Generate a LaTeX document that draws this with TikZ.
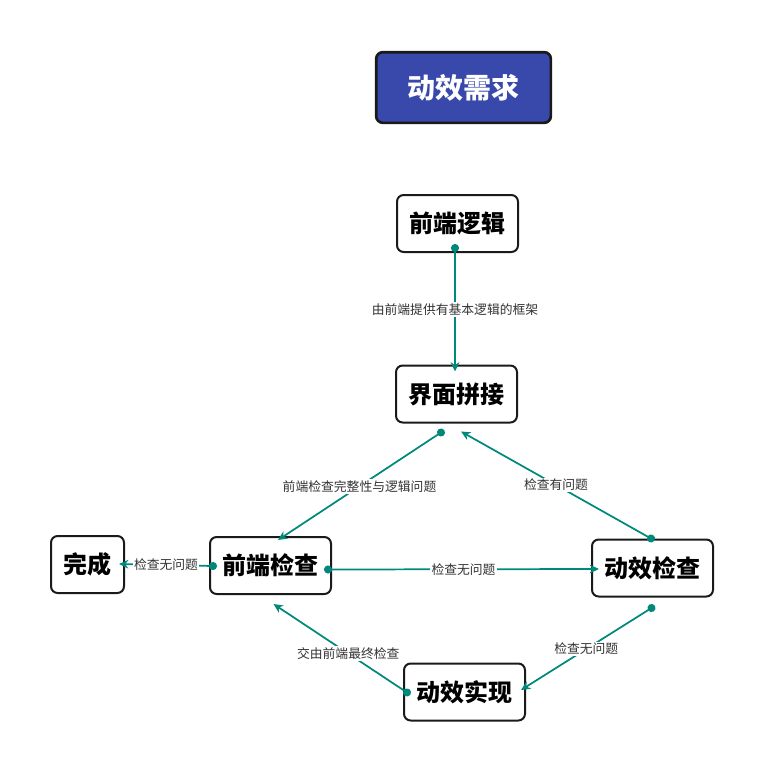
\documentclass[tikz,border=0pt]{standalone}
\usepackage{fontspec}
\newfontfamily\cjk{Noto Sans CJK SC}
\usepackage{tikz}
\usetikzlibrary{arrows.meta,calc}
\definecolor{flowteal}{RGB}{0,137,123}
\definecolor{needblue}{RGB}{57,73,171}
\definecolor{edgeblack}{RGB}{26,26,26}
\definecolor{labelgray}{RGB}{51,51,51}

\begin{document}
\begin{tikzpicture}[x=0.75pt,y=-0.75pt,
  box/.style={draw=edgeblack,line width=1.5pt,rounded corners=5pt,fill=white,
    minimum width=90.75pt,minimum height=42.75pt,inner sep=0pt,
    font=\cjk\bfseries\fontsize{18}{20}\selectfont},
  link/.style={draw=flowteal,line width=1.3pt,
    {Circle[length=6pt]}-{Stealth[length=7pt,width=6.5pt]},shorten <=-3pt},
  lbl/.style={fill=white,inner sep=1pt,text=labelgray,
    font=\cjk\fontsize{9.6}{11}\selectfont}]
\useasboundingbox (0,0) rectangle (764,771);
\node[box,fill=needblue,text=white,line width=2pt,minimum width=131pt,minimum height=53pt,
  font=\cjk\bfseries\fontsize{21}{24}\selectfont] (need) at (463.5,87.5) {动效需求};
\node[box] (logic)   at (457.5,223.5) {前端逻辑};
\node[box] (splice)  at (456.5,394)   {界面拼接};
\node[box] (fecheck) at (270.5,565.5) {前端检查};
\node[box] (fxcheck) at (652.5,568)   {动效检查};
\node[box,minimum width=54.75pt] (done) at (87.5,564.5) {完成};
\node[box] (impl)    at (464.5,692)   {动效实现};
% connectors
\draw[link] ($(logic.south)+(-2.5,-5)$) -- ($(splice.north)+(-1.5,7)$)
  node[lbl,midway] {由前端提供有基本逻辑的框架};
\draw[link] ($(splice.south)+(-15.5,9)$) -- ($(fecheck.north)+(7.5,4)$)
  node[lbl,midway] {前端检查完整性与逻辑问题};
\draw[link] ($(fxcheck.north)+(-1.5,0)$) -- ($(splice.south)+(4.5,8)$)
  node[lbl,midway] {检查有问题};
\draw[link] ($(fecheck.east)+(-4,4)$) -- ($(fxcheck.west)+(8,1)$)
  node[lbl,midway] {检查无问题};
\draw[link] ($(fecheck.west)+(4,0.5)$) -- ($(done.east)+(-6,-0.5)$)
  node[lbl,midway] {检查无问题};
\draw[link] ($(fxcheck.south)+(-1,10.5)$) -- ($(impl.east)+(-5,-2)$)
  node[lbl,midway] {检查无问题};
\draw[link] ($(impl.west)+(4,0.5)$) -- ($(fecheck.south)+(3,9)$)
  node[lbl,pos=0.44] {交由前端最终检查};
\end{tikzpicture}
\end{document}
